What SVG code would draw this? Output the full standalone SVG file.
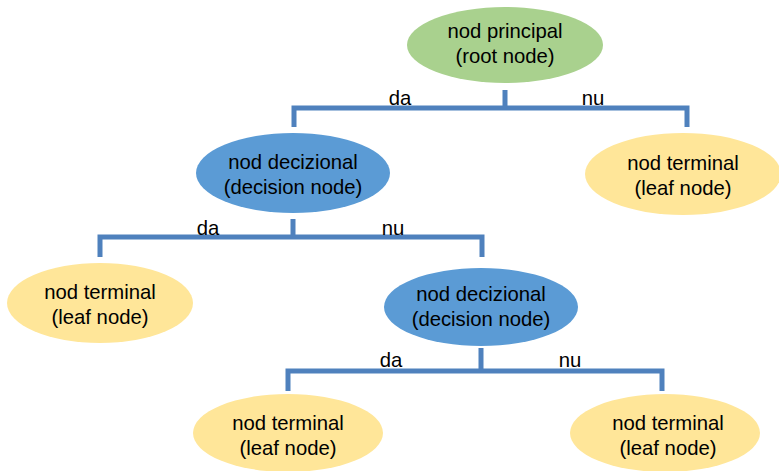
<svg xmlns="http://www.w3.org/2000/svg" width="779" height="471" viewBox="0 0 779 471">
  <style>
    .lbl { font-family: "Liberation Sans", Arial, sans-serif; font-size: 20.3px; fill: #000; text-anchor: middle; }
    .edge { font-family: "Liberation Sans", Arial, sans-serif; font-size: 20.3px; fill: #000; text-anchor: middle; }
    .root { fill: #A9D18E; }
    .dec { fill: #5B9BD5; }
    .leaf { fill: #FFE699; }
    .conn { fill: none; stroke: #4F81BD; stroke-width: 5; }
  </style>
  <rect width="779" height="471" fill="#ffffff"/>

  <g id="connectors">
    <path class="conn" d="M505 90 V108 M294 127 V108 H687 V127"/>
    <path class="conn" d="M293 219 V237 M100 257 V237 H482 V257"/>
    <path class="conn" d="M481 348 V371 M288 391 V371 H662 V391"/>
    <text class="edge" x="400" y="105">da</text>
    <text class="edge" x="593" y="105">nu</text>
    <text class="edge" x="208" y="235">da</text>
    <text class="edge" x="393" y="235">nu</text>
    <text class="edge" x="391" y="367">da</text>
    <text class="edge" x="570" y="367">nu</text>
  </g>

  <g id="root-node">
    <ellipse class="root" cx="505" cy="45" rx="98" ry="38"/>
    <text class="lbl" x="505" y="38">nod principal</text>
    <text class="lbl" x="505" y="63">(root node)</text>
  </g>

  <g id="decision-node-1">
    <ellipse class="dec" cx="293" cy="173" rx="97" ry="40"/>
    <text class="lbl" x="293" y="169">nod decizional</text>
    <text class="lbl" x="293" y="194">(decision node)</text>
  </g>

  <g id="leaf-node-1">
    <ellipse class="leaf" cx="683" cy="174" rx="98" ry="41"/>
    <text class="lbl" x="683" y="170">nod terminal</text>
    <text class="lbl" x="683" y="195">(leaf node)</text>
  </g>

  <g id="leaf-node-2">
    <ellipse class="leaf" cx="100" cy="303" rx="93" ry="40"/>
    <text class="lbl" x="100" y="299">nod terminal</text>
    <text class="lbl" x="100" y="324">(leaf node)</text>
  </g>

  <g id="decision-node-2">
    <ellipse class="dec" cx="481" cy="307" rx="97" ry="39"/>
    <text class="lbl" x="481" y="301">nod decizional</text>
    <text class="lbl" x="481" y="326">(decision node)</text>
  </g>

  <g id="leaf-node-3">
    <ellipse class="leaf" cx="288" cy="433" rx="95" ry="39"/>
    <text class="lbl" x="288" y="430">nod terminal</text>
    <text class="lbl" x="288" y="455">(leaf node)</text>
  </g>

  <g id="leaf-node-4">
    <ellipse class="leaf" cx="665" cy="433" rx="95" ry="39"/>
    <text class="lbl" x="668" y="430">nod terminal</text>
    <text class="lbl" x="668" y="455">(leaf node)</text>
  </g>
</svg>
